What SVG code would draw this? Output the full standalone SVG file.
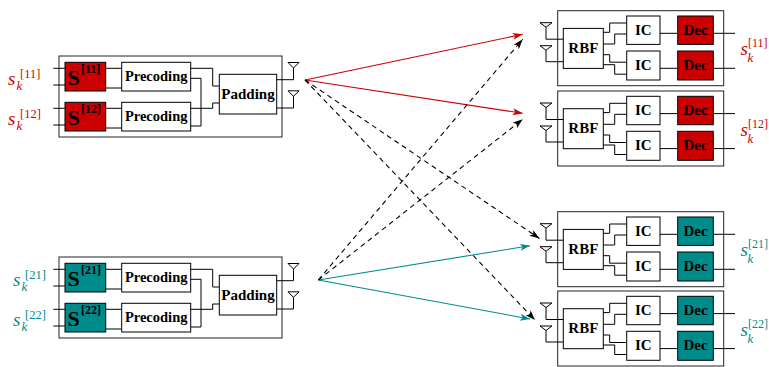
<svg xmlns="http://www.w3.org/2000/svg" width="769" height="367" viewBox="0 0 769 367">
<style>
  .box{fill:#fff;stroke:#000;stroke-width:1}
  .outer{fill:#fff;stroke:#222;stroke-width:1}
  .red{fill:#cc0000;stroke:#000;stroke-width:1}
  .teal{fill:#008b8b;stroke:#000;stroke-width:1}
  .ln{fill:none;stroke:#000;stroke-width:1}
  .ant{fill:none;stroke:#000;stroke-width:1;stroke-linejoin:miter}
  .lbl{font-family:"Liberation Serif",serif;font-weight:bold;fill:#000}
  .t15{font-size:15px;text-anchor:middle}
  .pre{font-size:14.5px;text-anchor:middle}
  .bigS{font-size:22px}
  .supS{font-size:12px}
  .m{font-family:"Liberation Serif",serif}
  .ms{font-size:19px;font-style:italic}
  .mk{font-size:13px;font-style:italic}
  .mb{font-size:12.5px}
  .mbr{font-size:12px}
  .cr{fill:#cc0000}
  .ct{fill:#008b8b}
  .ar-red{fill:none;stroke:#cc0000;stroke-width:1.1}
  .ar-teal{fill:none;stroke:#008b8b;stroke-width:1.1}
  .ar-dash{fill:none;stroke:#000;stroke-width:1.1;stroke-dasharray:5,4}
</style>
<defs>
  <marker id="hr" markerUnits="userSpaceOnUse" markerWidth="11" markerHeight="8" refX="10" refY="3.5" orient="auto"><path d="M0,0 L10,3.5 L0,7 L2.5,3.5 z" fill="#cc0000"/></marker>
  <marker id="ht" markerUnits="userSpaceOnUse" markerWidth="11" markerHeight="8" refX="10" refY="3.5" orient="auto"><path d="M0,0 L10,3.5 L0,7 L2.5,3.5 z" fill="#008b8b"/></marker>
  <marker id="hk" markerUnits="userSpaceOnUse" markerWidth="11" markerHeight="8" refX="10" refY="3.5" orient="auto"><path d="M0,0 L10,3.5 L0,7 L2.5,3.5 z" fill="#000"/></marker>
  <g id="txbody">
    <rect class="outer" x="59" y="56" width="223" height="81"/>
    <path class="ln" d="M53.3,68.3H65M53.3,85H65M53.3,108.3H65M53.3,125H65"/>
    <path class="ln" d="M105.7,68.3H121.7M105.7,88H121.7M105.7,108.3H121.7M105.7,128H121.7"/>
    <g id="prec1"><rect class="box" x="121.7" y="62.3" width="69" height="28.7"/><text class="lbl pre" x="156.2" y="81">Precoding</text></g>
    <g id="prec2"><rect class="box" x="121.7" y="102.3" width="69" height="28.7"/><text class="lbl pre" x="156.2" y="121">Precoding</text></g>
    <path class="ln" d="M190.7,68.3H212.7V86H219.3M190.7,78.3H201V126H190.7M190.7,108.3H212.7V103H219.3"/>
    <g id="pad"><rect class="box" x="219.3" y="74.3" width="57.4" height="39.7"/><text class="lbl t15" x="248" y="98.5">Padding</text></g>
    <path class="ant" d="M288,62.5H299L293.5,68Z M293.5,68V79.7H276.7"/>
    <path class="ant" d="M288,90.8H299L293.5,96.3Z M293.5,96.3V108H276.7"/>
  </g>
  <g id="rxbody">
    <rect class="outer" x="557.7" y="0" width="166" height="75"/>
    <path class="ant" d="M540,12H552L546,16.5Z M546,16.5V28.5H563.3"/>
    <path class="ant" d="M540,35H552L546,39.5Z M546,39.5V51H563.3"/>
    <rect class="box" x="563.3" y="17.7" width="40" height="40"/>
    <text class="lbl t15" x="583.3" y="42">RBF</text>
    <path class="ln" d="M603.3,21.6H609.7V12.3H626.7M603.3,33.3H614.7V23.3H626.7M603.3,44H609.7V51.5H626.7M603.3,54H614.7V63.5H626.7"/>
    <rect class="box" x="626.7" y="5.3" width="33.3" height="28.4"/>
    <text class="lbl t15" x="643.3" y="24">IC</text>
    <rect class="box" x="626.7" y="40.3" width="33.3" height="29"/>
    <text class="lbl t15" x="643.3" y="59">IC</text>
    <path class="ln" d="M660,22.6H677.7M660,57.6H677.7M713.3,22.6H735M713.3,57.6H735"/>
  </g>
</defs>

<g id="tx1">
  <use href="#txbody"/>
  <g id="s11"><rect class="red" x="65" y="62.3" width="40.7" height="28.7"/><text class="lbl bigS" x="67.5" y="85">S</text><text class="lbl supS" x="81" y="73">[11]</text></g>
  <g id="s12"><rect class="red" x="65" y="102.3" width="40.7" height="28.7"/><text class="lbl bigS" x="67.5" y="125">S</text><text class="lbl supS" x="81" y="113">[12]</text></g>
  <g id="in11" class="m cr"><text class="ms" x="8" y="85">s</text><text class="mk" x="16.5" y="90">k</text><text class="mb" x="20" y="78">[11]</text></g>
  <g id="in12" class="m cr"><text class="ms" x="8" y="125">s</text><text class="mk" x="16.5" y="130">k</text><text class="mb" x="20" y="118">[12]</text></g>
</g>

<g id="tx2" transform="translate(0,201)">
  <use href="#txbody"/>
  <g id="s21"><rect class="teal" x="65" y="62.3" width="40.7" height="28.7"/><text class="lbl bigS" x="67.5" y="85">S</text><text class="lbl supS" x="81" y="73">[21]</text></g>
  <g id="s22"><rect class="teal" x="65" y="102.3" width="40.7" height="28.7"/><text class="lbl bigS" x="67.5" y="125">S</text><text class="lbl supS" x="81" y="113">[22]</text></g>
  <g id="in21" class="m ct"><text class="ms" x="13" y="85">s</text><text class="mk" x="21.5" y="90">k</text><text class="mb" x="25" y="78">[21]</text></g>
  <g id="in22" class="m ct"><text class="ms" x="13" y="125">s</text><text class="mk" x="21.5" y="130">k</text><text class="mb" x="25" y="118">[22]</text></g>
</g>

<g id="rx1" transform="translate(0,10.7)">
  <use href="#rxbody"/>
  <rect class="red" x="677.7" y="5.3" width="35.6" height="28.4"/><text class="lbl t15" x="695.5" y="24">Dec</text>
  <rect class="red" x="677.7" y="40.3" width="35.6" height="29"/><text class="lbl t15" x="695.5" y="59">Dec</text>
  <g class="m cr"><text class="ms" x="740.5" y="44.5">s</text><text class="mk" x="747.5" y="51.5">k</text><text class="mbr" x="748" y="36.5">[11]</text></g>
</g>
<g id="rx2" transform="translate(0,91)">
  <use href="#rxbody"/>
  <rect class="red" x="677.7" y="5.3" width="35.6" height="28.4"/><text class="lbl t15" x="695.5" y="24">Dec</text>
  <rect class="red" x="677.7" y="40.3" width="35.6" height="29"/><text class="lbl t15" x="695.5" y="59">Dec</text>
  <g class="m cr"><text class="ms" x="740.5" y="44.5">s</text><text class="mk" x="747.5" y="51.5">k</text><text class="mbr" x="748" y="36.5">[12]</text></g>
</g>
<g id="rx3" transform="translate(0,211.7)">
  <use href="#rxbody"/>
  <rect class="teal" x="677.7" y="5.3" width="35.6" height="28.4"/><text class="lbl t15" x="695.5" y="24">Dec</text>
  <rect class="teal" x="677.7" y="40.3" width="35.6" height="29"/><text class="lbl t15" x="695.5" y="59">Dec</text>
  <g class="m ct"><text class="ms" x="740.5" y="44.5">s</text><text class="mk" x="747.5" y="51.5">k</text><text class="mbr" x="748" y="36.5">[21]</text></g>
</g>
<g id="rx4" transform="translate(0,291)">
  <use href="#rxbody"/>
  <rect class="teal" x="677.7" y="5.3" width="35.6" height="28.4"/><text class="lbl t15" x="695.5" y="24">Dec</text>
  <rect class="teal" x="677.7" y="40.3" width="35.6" height="29"/><text class="lbl t15" x="695.5" y="59">Dec</text>
  <g class="m ct"><text class="ms" x="740.5" y="44.5">s</text><text class="mk" x="747.5" y="51.5">k</text><text class="mbr" x="748" y="36.5">[22]</text></g>
</g>

<g id="connectors">
  <path class="ar-red" d="M305,80L522.7,34.3" marker-end="url(#hr)"/>
  <path class="ar-red" d="M305,80L522.7,113.3" marker-end="url(#hr)"/>
  <path class="ar-dash" d="M305,80L539.5,238.5" marker-end="url(#hk)"/>
  <path class="ar-dash" d="M305,80L535,320" marker-end="url(#hk)"/>
  <path class="ar-teal" d="M318.3,280L530,245.7" marker-end="url(#ht)"/>
  <path class="ar-teal" d="M318.3,280L530,319" marker-end="url(#ht)"/>
  <path class="ar-dash" d="M318.3,280L522.7,39.3" marker-end="url(#hk)"/>
  <path class="ar-dash" d="M318.3,280L522.7,119.3" marker-end="url(#hk)"/>
</g>
</svg>
